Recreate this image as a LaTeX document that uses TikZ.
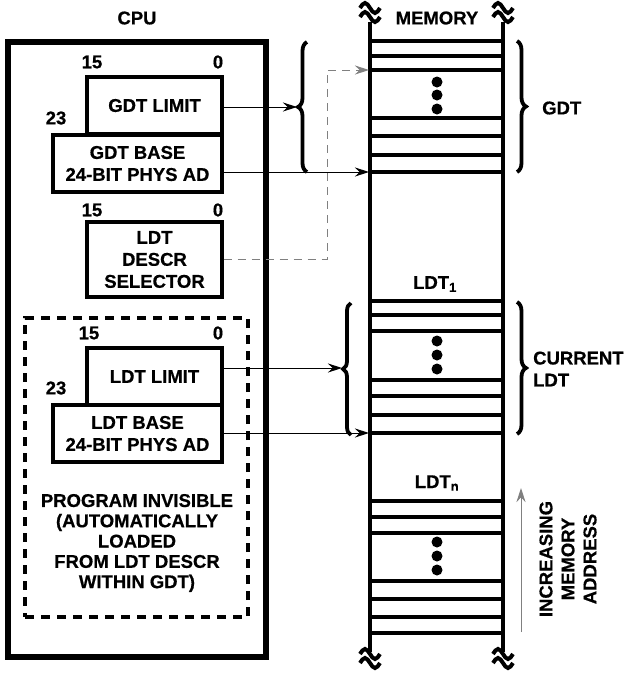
\documentclass[tikz,border=0pt]{standalone}
\usepackage{fontspec}
\setmainfont{Liberation Sans}[BoldFeatures={FakeBold=0.6}]
\usetikzlibrary{
  arrows.meta,
  positioning,
  decorations.pathreplacing,
  calc
}
\tikzset{
  lbl/.style={font=\bfseries\fontsize{18.5}{22}\selectfont, inner sep=0pt},
  regbox/.style={draw, line width=3.2pt, minimum width=135pt,
    minimum height=57pt, align=center, inner sep=0pt,
    font=\bfseries\fontsize{18.5}{22}\selectfont},
  basebox/.style={regbox, minimum width=169pt},
  arr/.style={-{Stealth[length=14pt,width=9pt]}, line width=1pt},
  selarr/.style={-{Stealth[length=14pt,width=9pt]}, line width=1pt,
    gray, dash pattern=on 8pt off 6pt},
  wall/.style={line width=4.5pt},
  slotA/.style={line width=4.5pt},
  slotB/.style={line width=3.3pt},
  brc/.style={decorate, decoration={brace, amplitude=9pt}, line width=3.8pt},
  membreak/.pic={
    \draw[line width=4pt] (-10,-6) sin (-5,-11) cos (0,-6) sin (5,-1) cos (10,-6);
    \draw[line width=4pt] (-10,3) sin (-5,-2) cos (0,3) sin (5,8) cos (10,3);
  }
}

\begin{document}
\begin{tikzpicture}[x=1pt, y=-1pt]
  \useasboundingbox (0,0) rectangle (625,673);

  % CPU side
  \node[lbl] (cpulbl) at (137,18) {CPU};
  \node[draw, line width=6pt, minimum width=258.5pt, minimum height=615pt,
    inner sep=0pt] (cpu) at (136.75,349.5) {};

  \node[regbox] (gdtlimit) at (154.5,105.5) {GDT LIMIT};
  \node[basebox] (gdtbase) at (137.5,163.5) {GDT BASE\\24-BIT PHYS AD};
  \node[lbl] (gdthi) at (92,62) {15};
  \node[lbl] (gdtlo) at (218,62) {0};
  \node[lbl] (gdttop) at (56,118) {23};

  \node[regbox, minimum height=75pt] (ldtsel) at (154.5,259.5)
    {LDT\\DESCR\\SELECTOR};
  \node[lbl] (selhi) at (92,210) {15};
  \node[lbl] (sello) at (218,210) {0};

  \node[draw, line width=4pt, dash pattern=on 9pt off 7pt,
    minimum width=223pt, minimum height=299pt, inner sep=0pt]
    (invis) at (136.5,467.5) {};
  \node[regbox] (ldtlimit) at (154.5,376.5) {LDT LIMIT};
  \node[basebox] (ldtbase) at (137.5,433.5) {LDT BASE\\24-BIT PHYS AD};
  \node[lbl] (ldthi) at (89,333) {15};
  \node[lbl] (ldtlo) at (218,333) {0};
  \node[lbl] (ldttop) at (56,388) {23};
  \node[lbl, align=center, font=\bfseries\fontsize{18.5}{20.3}\selectfont]
    (invistxt) at (137,543)
    {PROGRAM INVISIBLE\\(AUTOMATICALLY\\LOADED\\FROM LDT DESCR\\WITHIN GDT)};

  % Memory side
  \node[lbl] (memlbl) at (437,18) {MEMORY};
  \draw[wall] (370,22) -- (370,652);
  \draw[wall] (503,22) -- (503,652);
  \pic at (370,14) {membreak};
  \pic at (503,14) {membreak};
  \pic at (370,660) {membreak};
  \pic at (503,660) {membreak};

  \foreach \y in {41,70,136,172, 301,331,396,433, 501,533,599,633}
    \draw[slotA] (370,\y) -- (503,\y);
  \foreach \y in {56,118,155, 315,380,415, 517,581,617}
    \draw[slotB] (370,\y) -- (503,\y);
  \foreach \y in {82,95,109, 341,355,369, 542,556,570}
    \fill (437,\y) circle (5.5pt);

  \node[lbl] (ldt1) at (435,284) {LDT\textsubscript{1}};
  \node[lbl] (ldtn) at (437,483) {LDT\textsubscript{n}};

  % braces
  \draw[brc] (307,172) -- (307,42);
  \draw[brc] (517,41) -- (517,172);
  \node[lbl, anchor=west] (gdtname) at (542,108) {GDT};
  \draw[brc, decoration={amplitude=8pt}] (351,435) -- (351,303);
  \draw[brc] (517,302) -- (517,434);
  \node[lbl, anchor=west, align=left] (curname) at (533,369) {CURRENT\\LDT};

  % connectors
  \coordinate (gdtTip) at (297,107);
  \coordinate (gdtStart) at (369,172);
  \coordinate (selTurn) at (327,70);
  \coordinate (selEnd) at (369,70);
  \coordinate (ldtTip) at (342,368);
  \coordinate (ldtStart) at (369,433);
  \draw[arr] (gdtlimit.east |- gdtTip) -- (gdtTip);
  \draw[arr] (gdtbase.east |- gdtStart) -- (gdtStart);
  \draw[selarr] (ldtsel.east) -| (selTurn) -- (selEnd);
  \draw[arr] (ldtlimit.east |- ldtTip) -- (ldtTip);
  \draw[arr] (ldtbase.east |- ldtStart) -- (ldtStart);

  % address direction
  \coordinate (incLow) at (521,632);
  \coordinate (incHigh) at (521,488);
  \draw[arr, gray] (incLow) -- (incHigh);
  \node[lbl, rotate=90, align=center] (inctxt) at (568,559)
    {INCREASING\\MEMORY\\ADDRESS};
\end{tikzpicture}
\end{document}
